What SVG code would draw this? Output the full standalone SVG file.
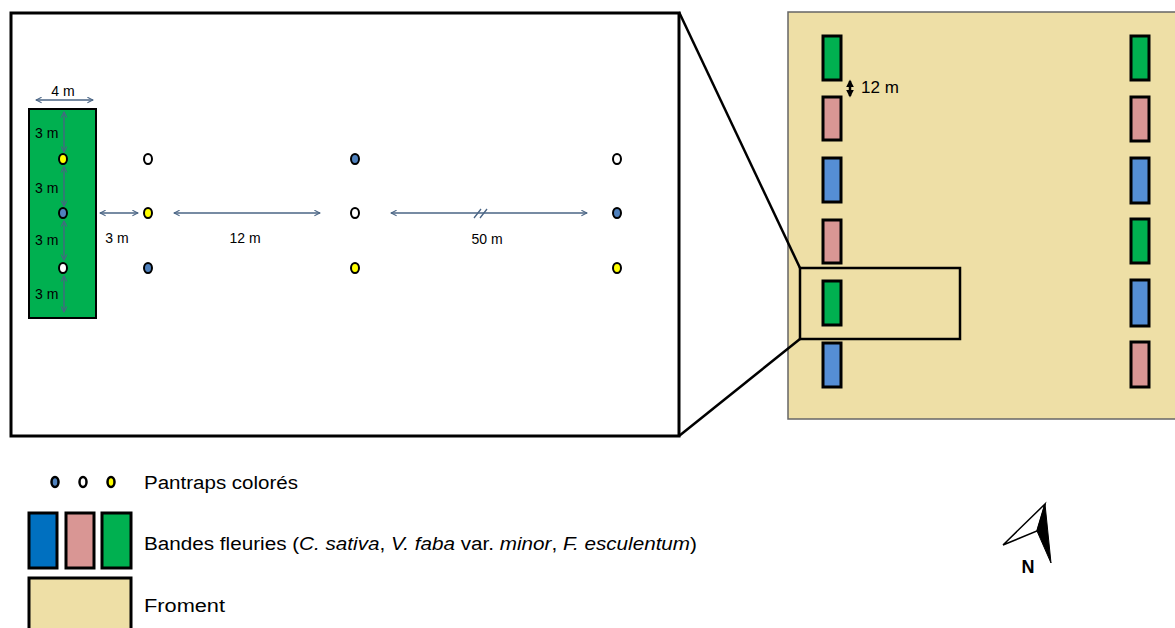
<svg xmlns="http://www.w3.org/2000/svg" width="1175" height="628" viewBox="0 0 1175 628">
<style>
.band{stroke:#000;stroke-width:3;}
.g{fill:#00B050}.p{fill:#D99694}.b{fill:#558ED5}.lb{fill:#0070C0}
.trap{stroke:#000;stroke-width:2}
.ty{fill:#FFFF00}.tb{fill:#4F81BD}.tw{fill:#fff}
.dim{stroke:#4A6585;stroke-width:1.3;fill:none;marker-start:url(#ah);marker-end:url(#ah)}
.t{font-family:"Liberation Sans",Arial,sans-serif;fill:#000}
</style>
<defs>
<marker id="ah" viewBox="0 0 10 10" refX="9" refY="5" markerWidth="7" markerHeight="7" orient="auto-start-reverse" markerUnits="userSpaceOnUse">
<path d="M1,1 L9,5 L1,9" fill="none" stroke="#4A6585" stroke-width="1.5"/>
</marker>
<marker id="bh" viewBox="0 0 10 10" refX="8" refY="5" markerWidth="8" markerHeight="8" orient="auto-start-reverse" markerUnits="userSpaceOnUse">
<path d="M0,0 L10,5 L0,10 Z" fill="#000"/>
</marker>
</defs>

<g id="field">
<rect x="788" y="12" width="400" height="407" fill="#EEDFA6" stroke="#666" stroke-width="1.5"/>
</g>
<g id="field-bands-left">
<rect class="band g" x="823" y="36" width="18" height="44"/>
<rect class="band p" x="823" y="97" width="18" height="43"/>
<rect class="band b" x="823" y="158" width="18" height="44"/>
<rect class="band p" x="823" y="220" width="18" height="43"/>
<rect class="band g" x="823" y="281" width="18" height="44"/>
<rect class="band b" x="823" y="343" width="18" height="44"/>
</g>
<g id="field-bands-right">
<rect class="band g" x="1131" y="36" width="18" height="44"/>
<rect class="band p" x="1131" y="97" width="18" height="44"/>
<rect class="band b" x="1131" y="158" width="18" height="45"/>
<rect class="band g" x="1131" y="219" width="18" height="44"/>
<rect class="band b" x="1131" y="280" width="18" height="46"/>
<rect class="band p" x="1131" y="342" width="18" height="45"/>
</g>
<g id="field-12m">
<line x1="850" y1="81" x2="850" y2="96" stroke="#000" stroke-width="2.5" marker-start="url(#bh)" marker-end="url(#bh)"/>
<text class="t" x="861" y="93" font-size="17">12 m</text>
</g>
<g id="selection">
<rect x="800" y="268" width="160" height="71" fill="none" stroke="#000" stroke-width="2.5"/>
</g>

<g id="connectors">
<line x1="679" y1="12" x2="800" y2="268" stroke="#000" stroke-width="2.5"/>
<line x1="679" y1="436" x2="800" y2="339" stroke="#000" stroke-width="2.5"/>
</g>

<g id="zoom-box">
<rect x="11" y="13" width="668" height="423" fill="#fff" stroke="#000" stroke-width="3"/>
</g>

<g id="zoom-strip">
<rect x="29" y="109" width="67" height="209" fill="#00B050" stroke="#000" stroke-width="2"/>
<line class="dim" x1="64" y1="112" x2="64" y2="152"/>
<line class="dim" x1="64" y1="167" x2="64" y2="206"/>
<line class="dim" x1="64" y1="221" x2="64" y2="260"/>
<line class="dim" x1="64" y1="276" x2="64" y2="312"/>
<ellipse class="trap ty" cx="63" cy="159" rx="4" ry="5"/>
<ellipse class="trap tb" cx="63" cy="213" rx="4" ry="5"/>
<ellipse class="trap tw" cx="63" cy="268" rx="4" ry="5"/>
<text class="t" x="35" y="138" font-size="14">3 m</text>
<text class="t" x="35" y="193" font-size="14">3 m</text>
<text class="t" x="35" y="245" font-size="14">3 m</text>
<text class="t" x="35" y="299" font-size="14">3 m</text>
<line class="dim" x1="36" y1="100" x2="93" y2="100"/>
<text class="t" x="63" y="96" font-size="14" text-anchor="middle">4 m</text>
</g>

<g id="zoom-traps">
<ellipse class="trap tw" cx="148" cy="159" rx="4" ry="5"/>
<ellipse class="trap ty" cx="148" cy="213" rx="4" ry="5"/>
<ellipse class="trap tb" cx="148" cy="268" rx="4" ry="5"/>
<ellipse class="trap tb" cx="355" cy="159" rx="4" ry="5"/>
<ellipse class="trap tw" cx="355" cy="213" rx="4" ry="5"/>
<ellipse class="trap ty" cx="355" cy="268" rx="4" ry="5"/>
<ellipse class="trap tw" cx="617" cy="159" rx="4" ry="5"/>
<ellipse class="trap tb" cx="617" cy="213" rx="4" ry="5"/>
<ellipse class="trap ty" cx="617" cy="268" rx="4" ry="5"/>
</g>

<g id="zoom-dims">
<line class="dim" x1="100" y1="213" x2="138" y2="213"/>
<text class="t" x="117" y="243" font-size="14" text-anchor="middle">3 m</text>
<line class="dim" x1="174" y1="213" x2="320" y2="213"/>
<text class="t" x="245" y="243" font-size="14" text-anchor="middle">12 m</text>
<line class="dim" x1="391" y1="213" x2="587" y2="213"/>
<path d="M474,218 L481,209 M480,218 L487,209" stroke="#4A6585" stroke-width="1.3" fill="none"/>
<text class="t" x="487" y="244" font-size="14" text-anchor="middle">50 m</text>
</g>

<g id="legend-pantraps">
<ellipse class="trap tb" cx="55" cy="482" rx="3.5" ry="5" style="stroke-width:2.5"/>
<ellipse class="trap tw" cx="83" cy="482" rx="3.5" ry="5" style="stroke-width:2.5"/>
<ellipse class="trap ty" cx="111" cy="482" rx="3.5" ry="5" style="stroke-width:2.5"/>
<text class="t" x="144" y="489" font-size="18" textLength="154" lengthAdjust="spacingAndGlyphs">Pantraps colorés</text>
</g>
<g id="legend-bands">
<rect class="band lb" x="29" y="513" width="28" height="55"/>
<rect class="band p" x="66" y="513" width="28" height="55"/>
<rect class="band g" x="102" y="513" width="29" height="55"/>
<text class="t" x="144" y="550" font-size="18" textLength="553" lengthAdjust="spacingAndGlyphs">Bandes fleuries (<tspan font-style="italic">C. sativa</tspan>, <tspan font-style="italic">V. faba</tspan> var. <tspan font-style="italic">minor</tspan>, <tspan font-style="italic">F. esculentum</tspan>)</text>
</g>
<g id="legend-froment">
<rect x="29" y="578" width="102" height="60" fill="#EEDFA6" stroke="#000" stroke-width="3"/>
<text class="t" x="144" y="612" font-size="18" textLength="81" lengthAdjust="spacingAndGlyphs">Froment</text>
</g>

<g id="north">
<polygon points="1045,504 1003,545 1037,531" fill="#fff" stroke="#000" stroke-width="1.5" stroke-linejoin="miter"/>
<polygon points="1045,504 1037,531 1051,563" fill="#000" stroke="#000" stroke-width="1"/>
<text class="t" x="1028" y="573" font-size="18" font-weight="bold" text-anchor="middle">N</text>
</g>
</svg>
